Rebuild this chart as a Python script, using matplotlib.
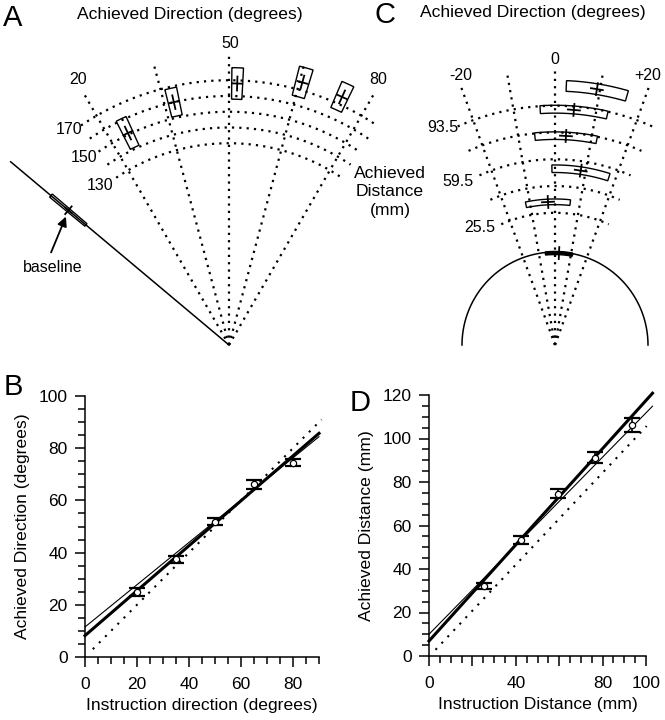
import numpy as np
import matplotlib
matplotlib.use('Agg')
import matplotlib.pyplot as plt
from matplotlib.ticker import MultipleLocator, FixedLocator, FuncFormatter

plt.rcParams['font.family'] = ['Liberation Sans', 'DejaVu Sans']

# ---------------- data ----------------
# Panel A : direction experiment (polar sketch)
A_target_dir = [20, 35, 50, 65, 80]          # deg
A_arc_dist = [130, 140, 150, 160, 170]        # mm
A_arc_labels = [130, 150, 170]
A_ach_dir = [24.5, 37.2, 51.8, 65.6, 74.5]
A_ach_dist = [151, 160, 168, 175, 175]
A_sd_dir = [1.25, 1.3, 1.2, 1.4, 1.3]
A_sd_dist = [10, 9, 10, 9.5, 9]
A_base = dict(dir=0, dist=135, sd_dir=0.5, sd_dist=14.5)

# Panel C : distance experiment (polar sketch)
C_target_dir = [-20, -10, 0, 10, 20]
C_dir_labels = ['-20', '0', '+20']
C_target_dist = [25.5, 42.5, 59.5, 76.5, 93.5]
C_dist_labels = [25.5, 59.5, 93.5]
C_ach_dir = [-2.8, 8.4, 3.0, 4.6, 9.3]
C_ach_dist = [32.5, 53.5, 74.5, 91.3, 106.2]
C_sd_dir = [8.9, 9.4, 8.5, 8.2, 6.8]
C_sd_dist = [1.8, 2.4, 2.4, 2.5, 3.4]
C_base = dict(dir=2.5, dist=0, sd_dir=8.5, sd_dist=1.0)

# Panel B
B_instr = [20, 35, 50, 65, 80]
B_ach = [24.9, 37.5, 51.8, 66.1, 74.4]
B_err = [1.5, 1.3, 1.4, 1.7, 1.4]
B_thick = (0.861, 8.2)     # slope, intercept
B_thin = (0.81, 11.5)
B_ref = (1.0, 0.0)

# Panel D
D_instr = [25.5, 42.5, 59.5, 76.5, 93.5]
D_ach = [32.3, 53.3, 74.7, 91.2, 106.2]
D_err = [1.4, 2.0, 2.2, 2.4, 3.4]
D_thick = (1.106, 6.9)
D_thin = (1.018, 10.0)
D_ref = (1.057, -0.3)

# ---------------- figure ----------------
fig = plt.figure(figsize=(6.65, 7.2), dpi=100)
ax0 = fig.add_axes([0, 0, 1, 1])
ax0.set_xlim(0, 665)
ax0.set_ylim(720, 0)
ax0.axis('off')

DOT = dict(color='black', lw=1.6, linestyle=(0, (1, 2.3)), dash_capstyle='butt')
PXMM = 1.575


def pol(apex, th_deg, r):
    th = np.deg2rad(th_deg)
    return apex[0] + r * np.cos(th), apex[1] - r * np.sin(th)


# ---- panel A geometry
A_apex = (229, 345)
A_th = lambda d: 90 + (50 - np.asarray(d, float))
A_r = lambda m: PXMM * np.asarray(m, float) - 3

# rays
for d in A_target_dir:
    x, y = pol(A_apex, A_th(d), np.array([0, 290]))
    ax0.plot(x, y, **DOT)
# arcs
dd = np.linspace(16, 84, 100)
for m in A_arc_dist:
    x, y = pol(A_apex, A_th(dd), A_r(m))
    ax0.plot(x, y, **DOT)
# baseline line
x, y = pol(A_apex, A_th(A_base['dir']), np.array([0, 285]))
ax0.plot(x, y, color='black', lw=1.1)


def sector(ax, apex, thf, rf, d, m, sdd, sdm, fill=False, lw=1.0, cross=(7, 5)):
    ds = np.linspace(d - sdd, d + sdd, 30)
    th = np.concatenate([thf(ds), thf(ds[::-1])])
    rr = np.concatenate([np.full(30, rf(m + sdm)), np.full(30, rf(m - sdm))])
    x, y = pol(apex, th, rr)
    ax.fill(x, y, facecolor='black' if fill else 'none', edgecolor='black', lw=lw, zorder=4)
    # cross
    t0 = float(thf(d))
    r0 = float(rf(m))
    x, y = pol(apex, t0, np.array([r0 - cross[0], r0 + cross[0]]))
    ax.plot(x, y, color='black', lw=1.3, zorder=5)
    tx = np.cos(np.deg2rad(t0 + 90)); ty = -np.sin(np.deg2rad(t0 + 90))
    cx, cy = pol(apex, t0, r0)
    ax.plot([cx - cross[1] * tx, cx + cross[1] * tx], [cy - cross[1] * ty, cy + cross[1] * ty],
            color='black', lw=1.3, zorder=5)


for d, m, sdd, sdm in zip(A_ach_dir, A_ach_dist, A_sd_dir, A_sd_dist):
    sector(ax0, A_apex, A_th, A_r, d, m, sdd, sdm)
sector(ax0, A_apex, A_th, A_r, A_base['dir'], A_base['dist'], A_base['sd_dir'],
       A_base['sd_dist'], cross=(4, 5))

ax0.annotate('', xy=(67, 214), xytext=(50, 255),
             arrowprops=dict(arrowstyle='-|>', color='black', lw=1.3, mutation_scale=14))

FS = 11.5
ax0.text(53, 267, 'baseline', ha='center', va='center', fontsize=FS)
ax0.text(190, 15, 'Achieved Direction (degrees)', ha='center', va='center', fontsize=12.6)
ax0.text(13, 18, 'A', ha='center', va='center', fontsize=21)
ax0.text(78, 80, '20', ha='center', va='center', fontsize=FS)
ax0.text(230, 43, '50', ha='center', va='center', fontsize=FS)
ax0.text(378, 80, '80', ha='center', va='center', fontsize=FS)
for lab, pos in zip(A_arc_labels, [(100, 186), (84, 158), (69, 129)]):
    ax0.text(pos[0], pos[1], str(lab), ha='center', va='center', fontsize=FS)

# ---- panel C geometry
C_apex = (555, 345)
C_th = lambda d: 90 - np.asarray(d, float)
C_r = lambda m: 92 + PXMM * np.asarray(m, float)

for d in C_target_dir:
    x, y = pol(C_apex, C_th(d), np.array([0, 275]))
    ax0.plot(x, y, **DOT)
dd = np.linspace(-24, 24, 100)
for m in C_target_dist:
    x, y = pol(C_apex, C_th(dd), C_r(m))
    ax0.plot(x, y, **DOT)
ts = np.linspace(0, 180, 200)
x, y = pol(C_apex, ts, float(C_r(0)) + 1)
ax0.plot(x, y, color='black', lw=1.1)

for d, m, sdd, sdm in zip(C_ach_dir, C_ach_dist, C_sd_dir, C_sd_dist):
    sector(ax0, C_apex, C_th, C_r, d, m, sdd, sdm, cross=(6, 6))
sector(ax0, C_apex, C_th, C_r, C_base['dir'], C_base['dist'], C_base['sd_dir'],
       C_base['sd_dist'], fill=True, cross=(6, 0))

ax0.text(385, 15, 'C', ha='center', va='center', fontsize=21)
ax0.text(533, 13, 'Achieved Direction (degrees)', ha='center', va='center', fontsize=12.6)
for lab, pos in zip(C_dir_labels, [(461, 76), (555, 60), (648, 76)]):
    ax0.text(pos[0], pos[1], lab, ha='center', va='center', fontsize=FS)
for lab, pos in zip(C_dist_labels, [(480, 228), (458, 181), (443, 128)]):
    ax0.text(pos[0], pos[1], str(lab), ha='center', va='center', fontsize=FS)
ax0.text(390, 192, 'Achieved\nDistance\n(mm)', ha='center', va='center', fontsize=12.6,
         linespacing=1.3)


# ---------------- panels B, D ----------------
def style(ax):
    for s in ['top', 'right']:
        ax.spines[s].set_visible(False)
    for s in ['left', 'bottom']:
        ax.spines[s].set_linewidth(1.1)
    ax.tick_params(which='major', length=7.5, width=1.1, labelsize=12.5)
    ax.tick_params(which='minor', length=4.8, width=1.1)
    ax.tick_params(axis='x', which='major', pad=7)
    ax.tick_params(axis='y', which='major', pad=5)


def scatter_panel(ax, xs, ys, es, thick, thin, ref, ref_x0, ref_x1, line_x1):
    xx = np.array([0, line_x1])
    ax.plot(xx, thick[0] * xx + thick[1], color='black', lw=2.2, clip_on=False, zorder=3)
    ax.plot(xx, thin[0] * xx + thin[1], color='black', lw=0.8, clip_on=False, zorder=3)
    rx = np.array([ref_x0, ref_x1])
    ax.plot(rx, ref[0] * rx + ref[1], color='black', lw=1.5, linestyle=(0, (1, 3.2)),
            clip_on=False, zorder=2)
    ax.errorbar(xs, ys, yerr=es, fmt='none', ecolor='black', elinewidth=1.2,
                capsize=5.5, capthick=1.6, zorder=4, clip_on=False)
    ax.plot(xs, ys, 'o', ms=4.5, mfc='white', mec='black', mew=0.9, zorder=5, clip_on=False)


# B
axB = fig.add_axes([85 / 665, (720 - 657) / 720, (319 - 85) / 665, (657 - 396) / 720])
scatter_panel(axB, B_instr, B_ach, B_err, B_thick, B_thin, B_ref, 3, 91, 90)
axB.set_xlim(0, 90)
axB.set_ylim(0, 100)
axB.xaxis.set_major_locator(FixedLocator([0, 20, 40, 60, 80]))
axB.xaxis.set_minor_locator(MultipleLocator(5))
axB.yaxis.set_major_locator(MultipleLocator(20))
axB.yaxis.set_minor_locator(MultipleLocator(5))
style(axB)
axB.set_xlabel('Instruction direction (degrees)', fontsize=12.6, labelpad=4)
axB.set_ylabel('Achieved Direction (degrees)', fontsize=12.6, labelpad=6)
fig.text(13 / 665, 1 - 387 / 720, 'B', ha='center', va='center', fontsize=21)

# D
axD = fig.add_axes([429 / 665, (720 - 656) / 720, (646 - 429) / 665, (656 - 395) / 720])
scatter_panel(axD, D_instr, D_ach, D_err, D_thick, D_thin, D_ref, 3, 100.3, 103)
axD.set_xlim(0, 100)
axD.set_ylim(0, 120)
axD.xaxis.set_major_locator(MultipleLocator(20))
axD.xaxis.set_minor_locator(MultipleLocator(5))
axD.xaxis.set_major_formatter(FuncFormatter(lambda v, p: '' if int(round(v)) in (20, 60) else '%d' % v))
axD.yaxis.set_major_locator(MultipleLocator(20))
axD.yaxis.set_minor_locator(MultipleLocator(5))
style(axD)
axD.set_xlabel('Instruction Distance (mm)', fontsize=12.6, labelpad=4)
axD.set_ylabel('Achieved Distance (mm)', fontsize=12.6, labelpad=6)
fig.text(360 / 665, 1 - 403 / 720, 'D', ha='center', va='center', fontsize=21)

fig.savefig('out.png', dpi=100)
